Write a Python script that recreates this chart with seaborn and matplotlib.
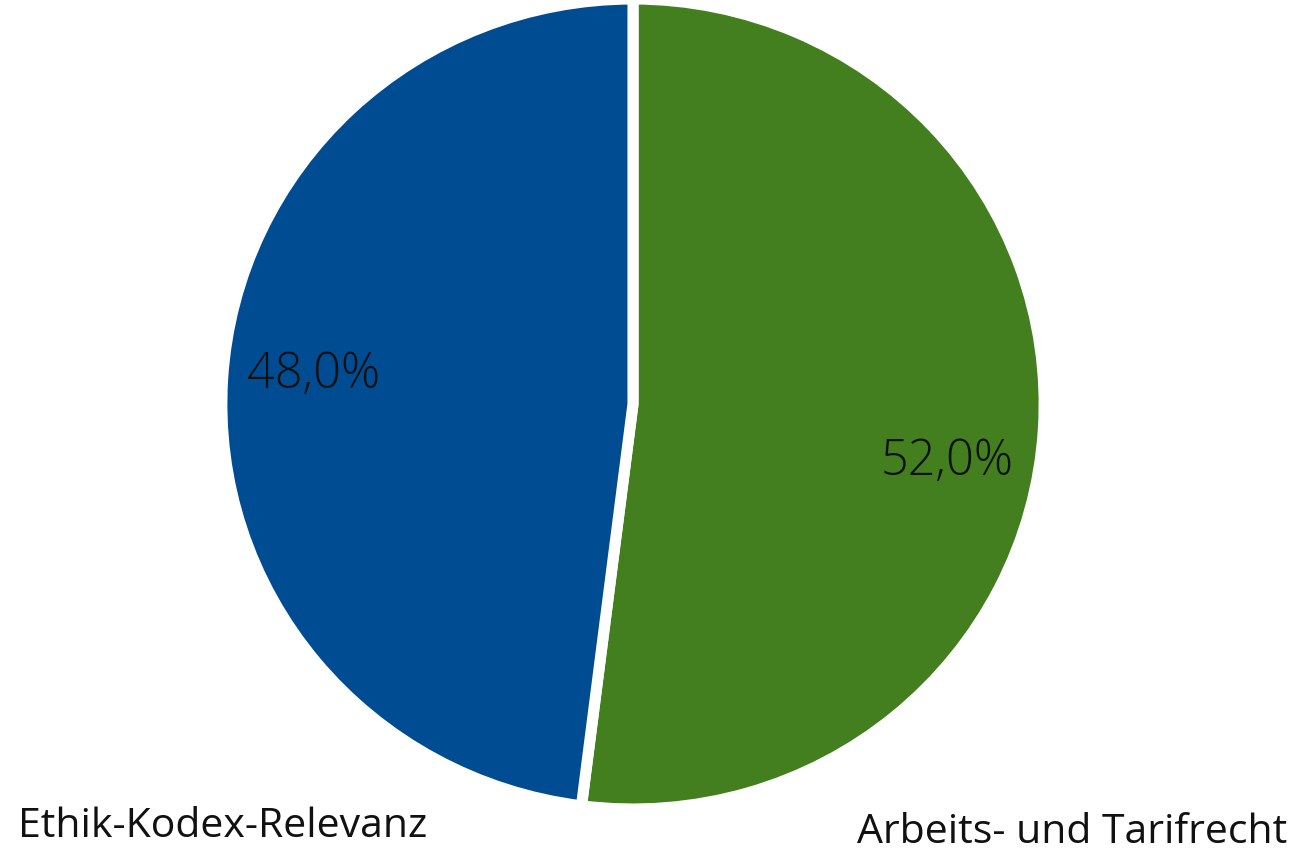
import matplotlib
matplotlib.use("Agg")
import matplotlib.pyplot as plt
import seaborn as sns

# data
categories = ["Arbeits- und Tarifrecht", "Ethik-Kodex-Relevanz"]
shares = [52.0, 48.0]
colors = ["#437E1F", "#004C93"]

sns.set_theme(style="white")
plt.rcParams["font.family"] = ["Open Sans", "DejaVu Sans"]

fig = plt.figure(figsize=(12.96, 8.53), dpi=100)
# axes centred on the pie
ax = fig.add_axes([(633 - 405) / 1296, (853 - 810) / 853, 810 / 1296, 810 / 853])

wedges, texts, autotexts = ax.pie(
    shares,
    colors=colors,
    startangle=90,
    counterclock=False,
    radius=1.0,
    autopct=lambda p: f"{p:.1f}%".replace(".", ","),
    pctdistance=0.8,
    wedgeprops=dict(edgecolor="white", linewidth=8),
    textprops=dict(fontsize=35, color="#111111", fontweight="light"),
)
# nudge the percentage labels to where the reference has them
autotexts[0].set_position((0.765, -0.14))
autotexts[1].set_position((-0.778, 0.075))

# the reference pie is a touch flatter than it is wide
ax.set_xlim(-0.985, 0.985)
ax.set_ylim(-1.0, 1.0)
ax.set_aspect("auto")
ax.axis("off")

fig.text(18 / 1296, 16 / 853, categories[1], fontsize=29.5, color="#111111",
         ha="left", va="baseline")
fig.text(1287 / 1296, 10 / 853, categories[0], fontsize=29.5, color="#111111",
         ha="right", va="baseline")

fig.savefig("out.png", dpi=100, facecolor="white")
